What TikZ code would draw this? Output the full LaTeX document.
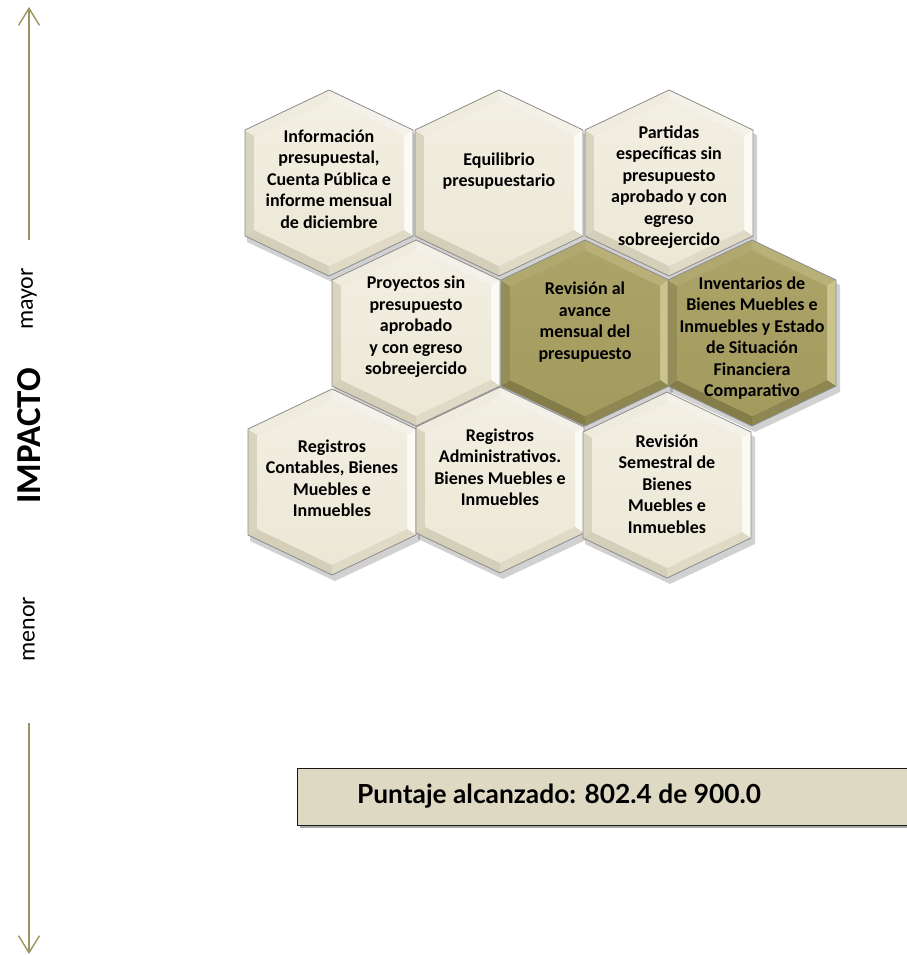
\documentclass[tikz,border=0pt]{standalone}
\usepackage{fontspec}
\setmainfont{Carlito}
\newfontfamily\latofont{Lato}
\usetikzlibrary{arrows.meta}
\definecolor{axiscol}{HTML}{9C945F}
\definecolor{boxfill}{HTML}{DDD9C3}
% beige palette
\definecolor{bIn}{HTML}{ECE8D6}
\definecolor{bInTop}{HTML}{F2EFE3}
\definecolor{bTL}{HTML}{EFECDF}
\definecolor{bTR}{HTML}{F4F2E8}
\definecolor{bR}{HTML}{FBFAF5}
\definecolor{bBR}{HTML}{DEDAC6}
\definecolor{bBL}{HTML}{D4CFB9}
\definecolor{bL}{HTML}{D9D4BE}
% olive palette
\definecolor{oIn}{HTML}{A39A5E}
\definecolor{oInTop}{HTML}{ACA368}
\definecolor{oTL}{HTML}{B0A86E}
\definecolor{oTR}{HTML}{B8B077}
\definecolor{oR}{HTML}{CBC48F}
\definecolor{oBR}{HTML}{8F8751}
\definecolor{oBL}{HTML}{857D48}
\definecolor{oL}{HTML}{958D56}
\tikzset{
  hextext/.style={align=center, text=black, inner sep=0pt,
    font=\bfseries\fontsize{18}{21.5}\selectfont},
  sidelbl/.style={rotate=90, text=black, inner sep=0pt,
    font=\fontsize{24}{24}\selectfont},
  axisarrow/.style={draw=axiscol, line width=1.4pt,
    -{Straight Barb[length=17pt,width=21pt,line width=1.4pt]}},
}
% #1 name, #2 x, #3 y, #4 palette prefix (b or o)
\newcommand{\hexcell}[4]{%
  \begin{scope}[shift={(#2,#3)}]
    \coordinate (#1) at (0,0);
    \fill[black,opacity=0.18] (3,-88) -- (88,-48) -- (88,59) -- (3,99) -- (-82,59) -- (-82,-48) -- cycle;
    \fill[#4TR] (0,-93) -- (84,-53) -- (75,-47) -- (0,-83) -- cycle;
    \fill[#4R] (84,-53) -- (84,53) -- (75,47) -- (75,-47) -- cycle;
    \fill[#4BR] (84,53) -- (0,93) -- (0,83) -- (75,47) -- cycle;
    \fill[#4BL] (0,93) -- (-84,53) -- (-75,47) -- (0,83) -- cycle;
    \fill[#4L] (-84,53) -- (-84,-53) -- (-75,-47) -- (-75,47) -- cycle;
    \fill[#4TL] (-84,-53) -- (0,-93) -- (0,-83) -- (-75,-47) -- cycle;
    \shade[top color=#4InTop, bottom color=#4In] (0,-83) -- (75,-47) -- (75,47) -- (0,83) -- (-75,47) -- (-75,-47) -- cycle;
    \draw[black!45, line width=0.8pt] (0,-93) -- (84,-53) -- (84,53) -- (0,93) -- (-84,53) -- (-84,-53) -- cycle;
  \end{scope}}
\begin{document}
\begin{tikzpicture}[x=1pt,y=-1pt]
\useasboundingbox (0,0) rectangle (907,956);
\clip (0,0) rectangle (907,956);
\fill[white] (0,0) rectangle (907,956);

% axis
\coordinate (axTopA) at (29,240);
\coordinate (axTopB) at (29,7);
\coordinate (axBotA) at (29,723);
\coordinate (axBotB) at (29,954);
\draw[axisarrow] (axTopA) -- (axTopB);
\draw[axisarrow] (axBotA) -- (axBotB);
\node[sidelbl] (lblMayor) at (29,299) {mayor};
\node[sidelbl, font=\bfseries\fontsize{35}{35}\selectfont] (lblImpacto) at (29,436) {IMPACTO};
\node[sidelbl] (lblMenor) at (29,629) {menor};

% hexagons
\hexcell{hInfo}{329}{183}{b}
\hexcell{hEquil}{499}{183}{b}
\hexcell{hPart}{669}{183}{b}
\hexcell{hProy}{416}{333}{b}
\hexcell{hRevAv}{585}{333}{o}
\hexcell{hInv}{752}{333}{o}
\hexcell{hRegCont}{332}{482}{b}
\hexcell{hRegAdm}{500}{480}{b}
\hexcell{hRevSem}{667}{485}{b}

\node[hextext] (tInfo) at (329,179) {Información\\presupuestal,\\Cuenta Pública e\\informe mensual\\de diciembre};
\node[hextext] (tEquil) at (499,171) {Equilibrio\\presupuestario};
\node[hextext] (tPart) at (669,187) {Partidas\\específicas sin\\presupuesto\\aprobado y con\\egreso\\sobreejercido};
\node[hextext] (tProy) at (416,327) {Proyectos sin\\presupuesto\\aprobado\\y con egreso\\sobreejercido};
\node[hextext] (tRevAv) at (585,322) {Revisión al\\avance\\mensual del\\presupuesto};
\node[hextext] (tInv) at (752,338) {Inventarios de\\Bienes Muebles e\\Inmuebles y Estado\\de Situación\\Financiera\\Comparativo};
\node[hextext] (tRegCont) at (332,478) {Registros\\Contables, Bienes\\Muebles e\\Inmuebles};
\node[hextext] (tRegAdm) at (500,467) {Registros\\Administrativos.\\Bienes Muebles e\\Inmuebles};
\node[hextext] (tRevSem) at (667,484) {Revisión\\Semestral de\\Bienes\\Muebles e\\Inmuebles};

% score box
\fill[black!35] (300,771) rectangle (915,828);
\node[draw=black!90, line width=1.4pt, fill=boxfill, anchor=north west,
      minimum width=618pt, minimum height=57pt, inner sep=0pt] (punBox) at (297,768) {};
\node[font=\latofont\bfseries\fontsize{26.3}{26.3}\selectfont, text=black] (punText) at (559,796) {Puntaje alcanzado: 802.4 de 900.0};
\end{tikzpicture}
\end{document}
